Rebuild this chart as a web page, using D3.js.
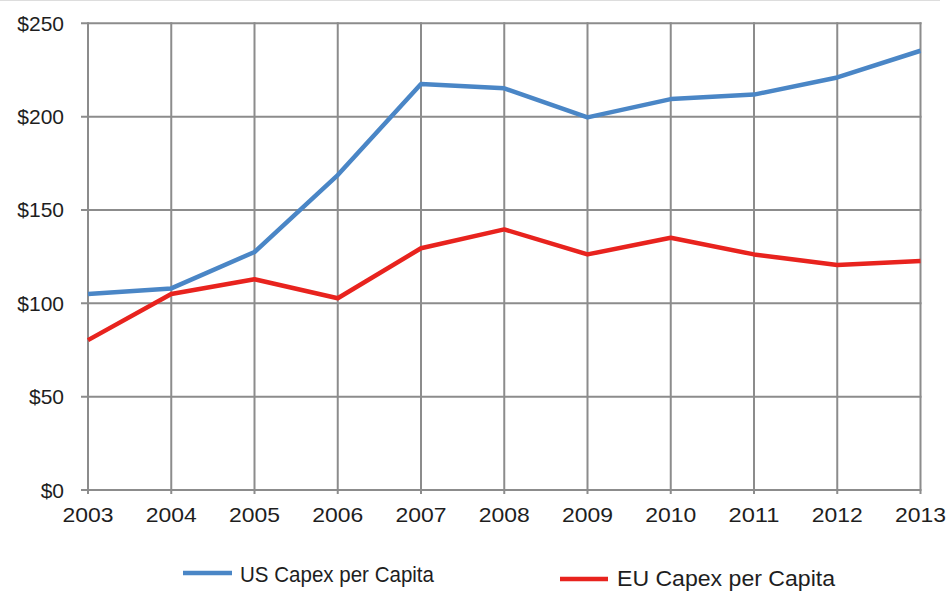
<!DOCTYPE html>
<html><head><meta charset="utf-8">
<script src="https://cdn.jsdelivr.net/npm/d3@7"></script>
<style>body{margin:0;background:#fff}svg{display:block}text{font-family:"Liberation Sans",Arial,sans-serif;fill:#1e1e1e}</style>
</head><body><svg id="c" width="951" height="592"></svg>
<script>
const years = [2003,2004,2005,2006,2007,2008,2009,2010,2011,2012,2013];
const usCapex = [105,108,127.5,168.7,217.5,215.2,199.6,209.4,211.8,221,235.3];
const euCapex = [80.3,105,112.9,102.7,129.5,139.6,126.2,135.1,126.2,120.5,122.7];
const yTicks = [0,50,100,150,200,250];
const seriesNames = ["US Capex per Capita","EU Capex per Capita"];
const seriesColors = ["#4a86c6","#e8231e"];

const svg = d3.select("#c");
const x = d3.scaleLinear().domain([2003,2013]).range([88,920.5]);
const y = d3.scaleLinear().domain([0,250]).range([490,23.3]);

svg.append("line").attr("x1",0).attr("x2",940).attr("y1",0.5).attr("y2",0.5).attr("stroke","#ddd").attr("stroke-width",1);

const g = svg.append("g");
g.selectAll("line.h").data(yTicks).join("line")
  .attr("x1",81).attr("x2",x(2013)+1).attr("y1",d=>y(d)).attr("y2",d=>y(d))
  .attr("stroke","#8c8c8c").attr("stroke-width",2);
g.selectAll("line.v").data(years).join("line")
  .attr("x1",d=>x(d)).attr("x2",d=>x(d)).attr("y1",y(250)-1).attr("y2",y(0)+4)
  .attr("stroke","#8c8c8c").attr("stroke-width",2);

g.selectAll("text.yl").data(yTicks).join("text")
  .attr("x",64).attr("y",d=>y(d)+7.5).attr("text-anchor","end")
  .attr("font-size",21).text(d=>"$"+d);
g.selectAll("text.xl").data(years).join("text")
  .attr("x",d=>x(d)).attr("y",522).attr("text-anchor","middle")
  .attr("font-size",21).attr("textLength",51).attr("lengthAdjust","spacingAndGlyphs").text(d=>d);

const line = d3.line().x((d,i)=>x(years[i])).y(d=>y(d));
[usCapex,euCapex].forEach((s,k)=>{
  svg.append("path").datum(s).attr("d",line).attr("fill","none")
    .attr("stroke",seriesColors[k]).attr("stroke-width",4.5).attr("stroke-linejoin","round");
});

const leg = [{x1:183,x2:232,y:573,tx:240,ty:582,w:194},{x1:560,x2:608,y:579,tx:617,ty:586,w:218}];
leg.forEach((l,k)=>{
  svg.append("line").attr("x1",l.x1).attr("x2",l.x2).attr("y1",l.y).attr("y2",l.y)
    .attr("stroke",seriesColors[k]).attr("stroke-width",4.5);
  svg.append("text").attr("x",l.tx).attr("y",l.ty).attr("font-size",22)
    .attr("textLength",l.w).attr("lengthAdjust","spacingAndGlyphs").text(seriesNames[k]);
});
</script></body></html>
